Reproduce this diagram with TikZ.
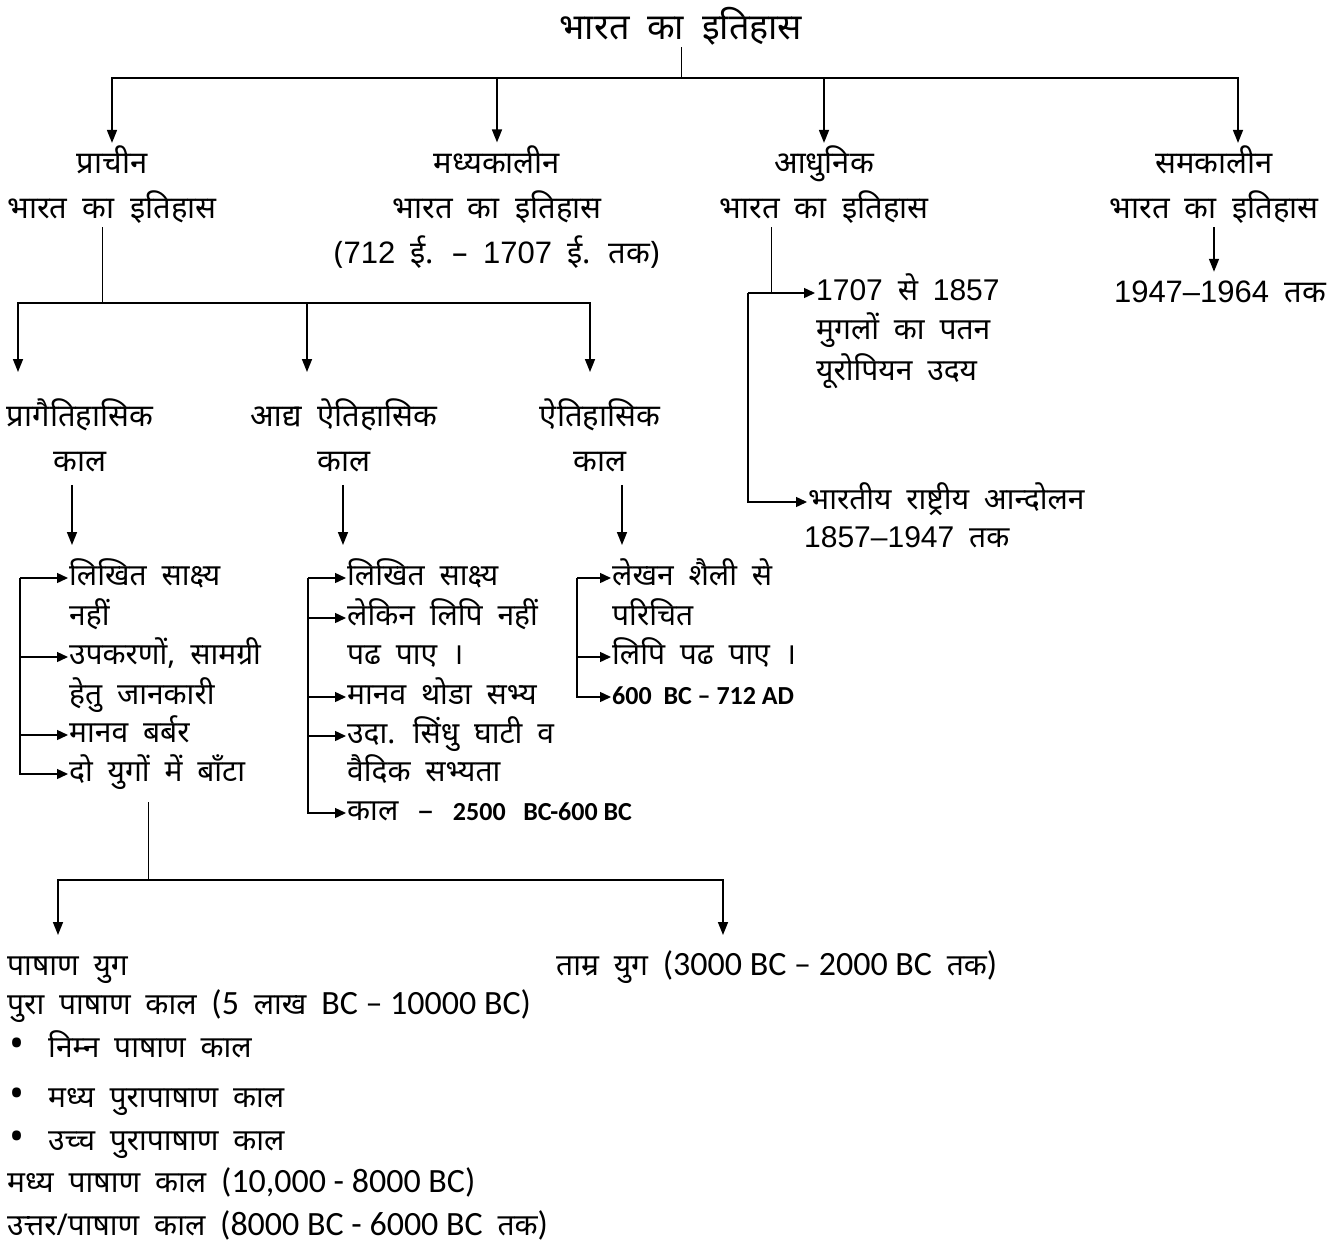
\documentclass[tikz,border=0pt]{standalone}
\usepackage{fontspec}
\setmainfont{Noto Sans}[Script=Devanagari,WordSpace=1.9]
\newfontfamily\arlfont{Liberation Sans}[WordSpace=1.9]
\newfontfamily\clbfont{Carlito}
\newcommand{\arl}[1]{{\arlfont #1}}
\newcommand{\clb}[1]{{\clbfont\fontsize{34}{40}\selectfont #1}}
\newcommand{\bigdot}{{\fontsize{40}{36}\selectfont •}}
\usetikzlibrary{arrows.meta,positioning}

\begin{document}
\begin{tikzpicture}[
		x=1pt, y=-1pt,
		>={Triangle[length=13pt,width=10pt]},
		head/.style={
			font=\fontsize{36}{40}\selectfont,
			inner sep=2pt
		},
		period/.style={
			font=\fontsize{31}{45}\selectfont,
			align=center,
			inner sep=3pt
		},
		item/.style={
			font=\fontsize{30}{36}\selectfont,
			anchor=west,
			inner sep=1pt,
			text height=22pt,
			text depth=8pt
		},
		note/.style={
			font=\fontsize{30}{36}\selectfont,
			anchor=west,
			inner sep=1pt,
			text height=22pt,
			text depth=8pt
		},
		link/.style={line width=1.6pt},
		tie/.style={line width=1pt},
		pin/.style={line width=1.4pt,-{Triangle[length=11pt,width=10pt]}}
		]
		\useasboundingbox (0,0) rectangle (1339,1250);

		% top level
		\node[head] (root) at (681,26) {भारत का इतिहास};
		\coordinate (rootbar) at (681,78);

		\node[period] (prachin) at (112,185) {प्राचीन\\भारत का इतिहास};
		\node[period] (madhya) at (497,207) {मध्यकालीन\\भारत का इतिहास\\(\arl{712} ई. – \arl{1707} ई. तक)};
		\node[period] (adhunik) at (824,185) {आधुनिक\\भारत का इतिहास};
		\node[period] (samkal) at (1214,185) {समकालीन\\भारत का इतिहास};
		\node[period] (samyear) at (1220,292) {\arl{1947–1964} तक};

		\draw[tie] (root) -- (rootbar);
		\draw[->,link] (rootbar) -| (prachin);
		\draw[->,link] (rootbar) -| (madhya);
		\draw[->,link] (rootbar) -| (adhunik);
		\draw[->,link] (rootbar) -| ([xshift=24pt]samkal.north);
		\draw[->,link,shorten >=6pt] (samkal) -- (samkal |- samyear.north);

		% ancient periods
		\coordinate (prabar) at (102,303);
		\node[period] (prag) at (80,435) {प्रागैतिहासिक\\काल};
		\node[period] (adya) at (344,435) {आद्य ऐतिहासिक\\काल};
		\node[period] (aiti) at (600,435) {ऐतिहासिक\\काल};
		\coordinate (pragtip) at (18,372);
		\coordinate (adyatip) at (307,372);
		\coordinate (aititip) at (590,372);

		\draw[tie] (prachin.south -| prabar) -- (prabar);
		\draw[->,link] (prabar) -| (pragtip);
		\draw[->,link] (prabar) -| (adyatip);
		\draw[->,link] (prabar) -| (aititip);

		\coordinate (pragend) at (72,545);
		\coordinate (adyaend) at (343,545);
		\coordinate (aitiend) at (622,545);
		\draw[->,link,shorten <=10pt] (prag.south -| pragend) -- (pragend);
		\draw[->,link,shorten <=10pt] (adya.south -| adyaend) -- (adyaend);
		\draw[->,link,shorten <=10pt] (aiti.south -| aitiend) -- (aitiend);

		% prehistoric
		\node[item] (p1) at (68,578) {लिखित साक्ष्य};
		\node[item] (p1b) at (68,618) {नहीं};
		\node[item] (p2) at (68,657) {उपकरणों, सामग्री};
		\node[item] (p2b) at (68,697) {हेतु जानकारी};
		\node[item] (p3) at (68,735) {मानव बर्बर};
		\node[item] (p4) at (68,774) {दो युगों में बाँटा};
		\coordinate (pbr) at (20,578);
		\draw[pin] (pbr) -- (p1);
		\draw[pin] (pbr) |- (p2);
		\draw[pin] (pbr) |- (p3);
		\draw[pin] (pbr) |- (p4);

		% proto-historic
		\node[item] (a1) at (346,578) {लिखित साक्ष्य};
		\node[item] (a2) at (346,618) {लेकिन लिपि नहीं};
		\node[item] (a2b) at (346,657) {पढ पाए ।};
		\node[item] (a3) at (346,697) {मानव थोडा सभ्य};
		\node[item] (a4) at (346,736) {उदा. सिंधु घाटी व};
		\node[item] (a4b) at (346,774) {वैदिक सभ्यता};
		\node[item] (a5) at (346,813) {काल \,–\, {\clbfont\bfseries\fontsize{26}{30}\selectfont 2500\ \ \ BC-600 BC}};
		\coordinate (abr) at (308,578);
		\draw[pin] (abr) -- (a1);
		\draw[pin] (abr) |- (a2);
		\draw[pin] (abr) |- (a3);
		\draw[pin] (abr) |- (a4);
		\draw[pin] (abr) |- (a5);

		% historic
		\node[item] (t1) at (611,578) {लेखन शैली से};
		\node[item] (t1b) at (611,618) {परिचित};
		\node[item] (t2) at (611,657) {लिपि पढ पाए ।};
		\node[item] (t3) at (611,697) {\clbfont\bfseries\fontsize{26}{30}\selectfont 600\ \ BC – 712 AD};
		\coordinate (tbr) at (577,578);
		\draw[pin] (tbr) -- (t1);
		\draw[pin] (tbr) |- (t2);
		\draw[pin] (tbr) |- (t3);

		% modern
		\node[item] (m1) at (815,293) {\arl{1707} से \arl{1857}};
		\node[item] (m1b) at (815,332) {मुगलों का पतन};
		\node[item] (m1c) at (815,373) {यूरोपियन उदय};
		\node[item] (m2) at (807,502) {भारतीय राष्ट्रीय आन्दोलन};
		\node[item] (m2b) at (803,540) {\arl{1857–1947} तक};
		\coordinate (mjoin) at (771,293);
		\coordinate (mbr) at (748,293);
		\draw[tie] (adhunik.south -| mjoin) -- (mjoin);
		\draw[pin] (mbr) -- (m1);
		\draw[pin] (mbr) |- (m2);

		% two ages
		\coordinate (yugbar) at (148,880);
		\coordinate (pashtip) at (58,935);
		\coordinate (tamtip) at (723,935);
		\draw[tie] ([yshift=-12pt]p4.south -| yugbar) -- (yugbar);
		\draw[->,link] (yugbar) -| (pashtip);
		\draw[->,link] (yugbar) -| (tamtip);

		\node[note] (b0) at (6,968) {पाषाण युग};
		\node[note] (b1) at (6,1007) {पुरा पाषाण काल \clb{(5} लाख \clb{BC – 10000 BC)}};
		\node[note] (b2) at (8,1050) {\bigdot\hspace{24pt}निम्न पाषाण काल};
		\node[note] (b3) at (8,1100) {\bigdot\hspace{24pt}मध्य पुरापाषाण काल};
		\node[note] (b4) at (8,1143) {\bigdot\hspace{24pt}उच्च पुरापाषाण काल};
		\node[note] (b5) at (6,1185) {मध्य पाषाण काल \clb{(10,000 - 8000 BC)}};
		\node[note] (b6) at (6,1228) {उत्तर/पाषाण काल \clb{(8000 BC - 6000 BC} तक\clb{)}};
		\node[note] (tamra) at (555,968) {ताम्र युग \clb{(3000 BC – 2000 BC} तक\clb{)}};
\end{tikzpicture}
\end{document}
